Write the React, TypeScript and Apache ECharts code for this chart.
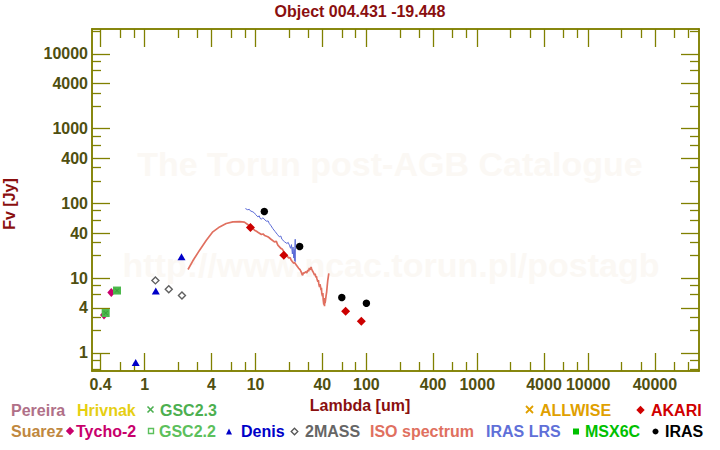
import React, { useEffect, useRef } from "react";
import * as echarts from "echarts";

const titleText = "Object 004.431 -19.448";
const xAxisTitle = "Lambda [um]";
const yAxisTitle = "Fv [Jy]";

const xTickMajor = [0.4, 1, 4, 10, 40, 100, 400, 1000, 4000, 10000, 40000];
const xTickLabels = ["0.4", "1", "4", "10", "40", "100", "400", "1000", "4000", "10000", "40000"];
const xTickMinor = [0.6, 0.8, 2, 3, 6, 8, 20, 30, 60, 80, 200, 300, 600, 800, 2000, 3000, 6000, 8000, 20000, 30000, 60000, 80000];
const yTickMajor = [1, 4, 10, 40, 100, 400, 1000, 4000, 10000];
const yTickLabels = ["1", "4", "10", "40", "100", "400", "1000", "4000", "10000"];
const yTickMinor = [0.6, 0.8, 2, 3, 6, 8, 20, 30, 60, 80, 200, 300, 600, 800, 2000, 3000, 6000, 8000, 20000];

const X_MIN = 0.335;
const X_MAX = 100000;
const Y_MIN = 0.57;
const Y_MAX = 21500;

// photometry
const tychoLambda = [0.43, 0.5];
const tychoFlux = [3.2, 6.4];
const gsc22Lambda = [0.445, 0.563];
const gsc22Flux = [3.4, 6.8];
const gsc23Lambda = [0.445, 0.563];
const gsc23Flux = [3.4, 6.8];
const denisLambda = [0.83, 1.26, 2.15];
const denisFlux = [0.74, 6.7, 19.2];
const twomassLambda = [1.25, 1.65, 2.17];
const twomassFlux = [9.3, 7.1, 5.85];
const akariLambda = [9, 18, 65, 90];
const akariFlux = [47.5, 20.2, 3.6, 2.65];
const irasLambda = [12, 25, 60, 100];
const irasFlux = [77.7, 26.4, 5.5, 4.6];

// spectra
const isoLambda = [2.46, 2.72, 3.13, 3.6, 4.12, 4.74, 5.44, 6.25, 7.2, 7.94, 8.5, 9.1, 9.8, 10.2, 10.5, 11.3, 11.7, 12.1, 12.9, 13.3, 13.8, 14.8, 15.4, 15.9, 17.0, 17.5, 18.0, 18.9, 20.0, 20.5, 21.0, 22.1, 22.6, 23.3, 24.5, 25.2, 25.8, 26.2, 26.6, 27.0, 27.5, 28.5, 29.0, 29.6, 30.1, 30.6, 31.2, 31.7, 32.1, 32.5, 33.3, 34.1, 34.5, 35.0, 35.4, 35.8, 36.5, 36.9, 37.2, 37.8, 38.1, 38.4, 39.0, 39.3, 39.6, 40.2, 40.5, 40.8, 41.3, 41.6, 41.9, 42.1, 42.4, 42.9, 43.3, 43.8, 44.3, 44.8, 45.3, 45.8];
const isoFlux = [13, 17, 23.6, 32, 41.5, 48.3, 53.7, 56.4, 56.8, 56, 52, 48, 43.7, 42.2, 41, 38.3, 38.9, 37, 35.6, 34.6, 33, 30.5, 30.9, 27.5, 24.8, 24.2, 22.5, 20.2, 18.5, 18.8, 17.3, 15.8, 16.1, 14.9, 13.5, 13.0, 12.1, 11.3, 10.9, 11.8, 11.6, 12.2, 11.7, 12.8, 12.3, 13.6, 12.9, 14.1, 13.2, 12.6, 11.8, 10.9, 11.4, 10.2, 10.6, 9.8, 8.9, 9.4, 8.4, 7.6, 8.3, 7.9, 6.9, 7.4, 6.2, 5.7, 6.3, 5.1, 4.4, 5.0, 4.2, 5.4, 4.6, 5.2, 5.8, 6.5, 7.8, 9.2, 10.3, 11.5];
const lrsLambda = [8.1, 8.5, 8.8, 9.0, 9.47, 9.8, 10.0, 10.5, 10.8, 11.0, 11.3, 11.6, 11.9, 12.5, 13.0, 13.3, 13.8, 14.3, 15.0, 15.7, 16.4, 16.9, 17.3, 18.3, 19.2, 19.7, 20.2, 20.7, 21.1, 21.5, 21.8, 22.1, 22.4, 22.6, 22.8, 22.8];
const lrsFlux = [85, 82, 83, 79, 76.8, 74, 71, 65.8, 68, 63, 61.2, 64, 62, 57.7, 58, 53.7, 50, 46, 42, 38.5, 35.6, 36.5, 33, 30.5, 29, 30, 27.5, 25, 28, 21, 26, 18.5, 24, 17, 33, 16.4];

const FONT = '"Liberation Sans", Arial, sans-serif';
const axisColor = "#808000";
const tickLabelColor = "#4f4f10";
const titleColor = "#8a0f0f";

const zip = (a: number[], b: number[]) => a.map((v, i) => [v, b[i]]);
const lookup = (vals: number[], labels: string[]) => (v: number) => {
  const i = vals.findIndex((t) => Math.abs(t - v) / t < 1e-6);
  return i >= 0 ? labels[i] : "";
};

function mkAxis(kind: "x" | "y", position: string, values: number[], len: number, withLabels: boolean) {
  const isX = kind === "x";
  return {
    type: "log",
    logBase: 10,
    position,
    min: isX ? X_MIN : Y_MIN,
    max: isX ? X_MAX : Y_MAX,
    axisLine: { show: true, onZero: false, lineStyle: { color: axisColor, width: 1.5 } },
    axisTick: {
      show: true,
      inside: true,
      length: len,
      customValues: values,
      lineStyle: { color: axisColor, width: 1.3 },
    },
    minorTick: { show: false },
    splitLine: { show: false },
    minorSplitLine: { show: false },
    axisLabel: withLabels
      ? {
          show: true,
          interval: 0,
          customValues: isX ? xTickMajor : yTickMajor,
          formatter: isX ? lookup(xTickMajor, xTickLabels) : lookup(yTickMajor, yTickLabels),
          margin: isX ? 5 : 4,
          color: tickLabelColor,
          fontSize: 16,
          fontWeight: "bold",
          fontFamily: FONT,
          hideOverlap: false,
        }
      : { show: false },
  };
}

const legendItems = [
  { text: "Pereira", x: 11, y: 410, color: "#b07088" },
  { text: "Hrivnak", x: 77, y: 410, color: "#e6cf12" },
  { text: "GSC2.3", x: 160, y: 410, color: "#4caf50" },
  { text: "ALLWISE", x: 540, y: 410, color: "#e0a000" },
  { text: "AKARI", x: 651, y: 410, color: "#d00000" },
  { text: "Suarez", x: 11, y: 431, color: "#c08840" },
  { text: "Tycho-2", x: 76, y: 431, color: "#c8006c" },
  { text: "GSC2.2", x: 159, y: 431, color: "#5cc05c" },
  { text: "Denis", x: 241, y: 431, color: "#0000c8" },
  { text: "2MASS", x: 305, y: 431, color: "#666666" },
  { text: "ISO spectrum", x: 370, y: 431, color: "#e07060" },
  { text: "IRAS LRS", x: 486, y: 431, color: "#6070d8" },
  { text: "MSX6C", x: 585, y: 431, color: "#00c000" },
  { text: "IRAS", x: 665, y: 431, color: "#000000" },
];

const diamond = (cx: number, cy: number, r: number) => [
  [cx, cy - r],
  [cx + r, cy],
  [cx, cy + r],
  [cx - r, cy],
];

const crossPath = "path://M0,0L10,10M10,0L0,10";

export default function App() {
  const ref = useRef<HTMLDivElement>(null);
  useEffect(() => {
    if (!ref.current) return;
    const chart = echarts.init(ref.current, null, { renderer: "svg" });
    const graphics: any[] = [
      {
        type: "text",
        z: -10,
        silent: true,
        style: {
          text: "The Torun post-AGB Catalogue",
          x: 390,
          y: 164,
          align: "center",
          verticalAlign: "middle",
          font: `bold 34px ${FONT}`,
          fill: "#fbf8f4",
        },
      },
      {
        type: "text",
        z: -10,
        silent: true,
        style: {
          text: "http://www.ncac.torun.pl/postagb",
          x: 391,
          y: 265,
          align: "center",
          verticalAlign: "middle",
          font: `bold 34px ${FONT}`,
          fill: "#fbf8f4",
        },
      },
      {
        type: "text",
        style: {
          text: titleText,
          x: 360,
          y: 11.5,
          align: "center",
          verticalAlign: "middle",
          font: `bold 16px ${FONT}`,
          fill: titleColor,
        },
      },
      {
        type: "text",
        style: {
          text: xAxisTitle,
          x: 360,
          y: 405,
          align: "center",
          verticalAlign: "middle",
          font: `bold 16px ${FONT}`,
          fill: titleColor,
        },
      },
      {
        type: "text",
        x: 9.5,
        y: 204,
        rotation: Math.PI / 2,
        style: {
          text: yAxisTitle,
          x: 0,
          y: 0,
          align: "center",
          verticalAlign: "middle",
          font: `bold 16px ${FONT}`,
          fill: titleColor,
        },
      },
      ...legendItems.map((it) => ({
        type: "text",
        style: {
          text: it.text,
          x: it.x,
          y: it.y,
          align: "left",
          verticalAlign: "middle",
          font: `bold 16px ${FONT}`,
          fill: it.color,
        },
      })),
      // legend symbols
      { type: "line", shape: { x1: 147.5, y1: 406.5, x2: 153.5, y2: 412.5 }, style: { stroke: "#4caf50", lineWidth: 1.6 } },
      { type: "line", shape: { x1: 153.5, y1: 406.5, x2: 147.5, y2: 412.5 }, style: { stroke: "#4caf50", lineWidth: 1.6 } },
      { type: "line", shape: { x1: 526, y1: 406, x2: 533, y2: 413 }, style: { stroke: "#e0a000", lineWidth: 1.8 } },
      { type: "line", shape: { x1: 533, y1: 406, x2: 526, y2: 413 }, style: { stroke: "#e0a000", lineWidth: 1.8 } },
      { type: "polygon", shape: { points: diamond(640.5, 410, 4.2) }, style: { fill: "#d00000" } },
      { type: "polygon", shape: { points: diamond(70, 431, 4.2) }, style: { fill: "#c8006c" } },
      { type: "rect", shape: { x: 148.5, y: 428.5, width: 5, height: 5 }, style: { fill: "none", stroke: "#5cc05c", lineWidth: 1.4 } },
      { type: "polygon", shape: { points: [[226, 434.5], [232, 434.5], [229, 428.5]] }, style: { fill: "#0000c8" } },
      { type: "polygon", shape: { points: diamond(294.5, 431.5, 3.3) }, style: { fill: "none", stroke: "#555555", lineWidth: 1.3 } },
      { type: "rect", shape: { x: 573, y: 428.5, width: 6, height: 6 }, style: { fill: "#00c000" } },
      { type: "circle", shape: { cx: 655.5, cy: 431.5, r: 3 }, style: { fill: "#000000" } },
    ];

    const option: any = {
      animation: false,
      backgroundColor: "#ffffff",
      grid: {
        left: 92,
        right: 21,
        top: 29,
        bottom: 79,
        containLabel: false,
        outerBoundsMode: "none",
      },
      xAxis: [
        mkAxis("x", "bottom", xTickMajor, 18, true),
        mkAxis("x", "bottom", xTickMinor, 9, false),
        mkAxis("x", "top", xTickMajor, 18, false),
        mkAxis("x", "top", xTickMinor, 9, false),
      ],
      yAxis: [
        mkAxis("y", "left", yTickMajor, 18, true),
        mkAxis("y", "left", yTickMinor, 9, false),
        mkAxis("y", "right", yTickMajor, 18, false),
        mkAxis("y", "right", yTickMinor, 9, false),
      ],
      graphic: { elements: graphics },
      series: [
        {
          name: "ISO spectrum",
          type: "line",
          data: zip(isoLambda, isoFlux),
          showSymbol: false,
          symbol: "none",
          lineStyle: { color: "#e07060", width: 1.7 },
          z: 2,
        },
        {
          name: "IRAS LRS",
          type: "line",
          data: zip(lrsLambda, lrsFlux),
          showSymbol: false,
          symbol: "none",
          lineStyle: { color: "#5a6ad6", width: 1 },
          z: 3,
        },
        {
          name: "Tycho-2",
          type: "scatter",
          data: zip(tychoLambda, tychoFlux),
          symbol: "diamond",
          symbolSize: [8, 9],
          itemStyle: { color: "#c8006c", opacity: 1 },
          z: 4,
        },
        {
          name: "GSC2.2",
          type: "scatter",
          data: zip(gsc22Lambda, gsc22Flux),
          symbol: "rect",
          symbolSize: 8,
          itemStyle: { color: "#4cb84c", opacity: 1 },
          z: 5,
        },
        {
          name: "GSC2.3",
          type: "scatter",
          data: zip(gsc23Lambda, gsc23Flux),
          symbol: crossPath,
          symbolSize: 4,
          itemStyle: { color: "none", borderColor: "#3a9a3a", borderWidth: 1, opacity: 1 },
          z: 6,
        },
        {
          name: "Denis",
          type: "scatter",
          data: zip(denisLambda, denisFlux),
          symbol: "triangle",
          symbolSize: [8, 7],
          itemStyle: { color: "#0000c8", opacity: 1 },
          z: 5,
        },
        {
          name: "2MASS",
          type: "scatter",
          data: zip(twomassLambda, twomassFlux),
          symbol: "diamond",
          symbolSize: 7,
          itemStyle: { color: "#ffffff", borderColor: "#606060", borderWidth: 1.4, opacity: 1 },
          z: 5,
        },
        {
          name: "AKARI",
          type: "scatter",
          data: zip(akariLambda, akariFlux),
          symbol: "diamond",
          symbolSize: 9,
          itemStyle: { color: "#cc0000", opacity: 1 },
          z: 6,
        },
        {
          name: "IRAS",
          type: "scatter",
          data: zip(irasLambda, irasFlux),
          symbol: "circle",
          symbolSize: 7.5,
          itemStyle: { color: "#000000", opacity: 1 },
          z: 6,
        },
      ],
    };
    chart.setOption(option);
    return () => chart.dispose();
  }, []);
  return (
    <div
      ref={ref}
      style={{ position: "fixed", left: 0, top: 0, width: 720, height: 450, background: "#fff" }}
    />
  );
}
